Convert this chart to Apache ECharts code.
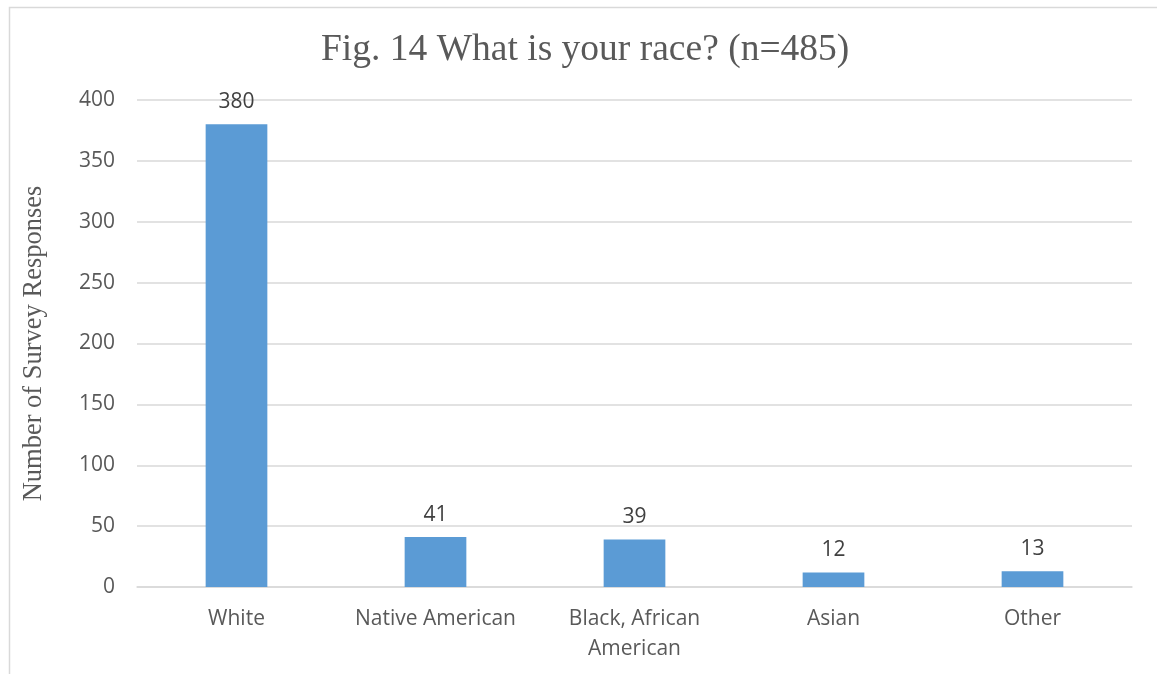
<!DOCTYPE html>
<html>
<head>
<meta charset="utf-8">
<script src="https://cdn.jsdelivr.net/npm/echarts@6/dist/echarts.min.js"></script>
<style>
  html, body { margin: 0; padding: 0; background: #ffffff; }
  #chart { width: 1157px; height: 674px; }
</style>
</head>
<body>
<div id="chart"></div>
<script>
// Survey responses by race
const categories = ['White', 'Native American', 'Black, African\nAmerican', 'Asian', 'Other'];
const responses = [380, 41, 39, 12, 13];
const yTicks = { min: 0, max: 400, interval: 50 };

const textColor = '#595959';
const gridColor = '#d9d9d9';
const sansFont = 'Open Sans';
const serifFont = 'Liberation Serif';

const chart = echarts.init(document.getElementById('chart'));
chart.setOption({
  animation: false,
  backgroundColor: '#ffffff',
  graphic: [{
    type: 'rect',
    left: 7, top: 5,
    shape: { width: 1170, height: 700 },
    style: { fill: 'none', stroke: '#d9d9d9', lineWidth: 1.5 },
    silent: true
  }],
  title: {
    text: 'Fig. 14 What is your race? (n=485)',
    left: 316,
    top: 26,
    textStyle: { fontFamily: serifFont, fontSize: 37.5, fontWeight: 'normal', color: textColor }
  },
  grid: { left: 137, right: 25, top: 100, bottom: 87, containLabel: false },
  xAxis: {
    type: 'category',
    data: categories,
    axisLine: { show: true, lineStyle: { color: gridColor, width: 1.5 } },
    axisTick: { show: false },
    axisLabel: {
      color: textColor, fontFamily: sansFont, fontSize: 21,
      margin: 17, lineHeight: 30, interval: 0
    }
  },
  yAxis: {
    type: 'value',
    min: yTicks.min, max: yTicks.max, interval: yTicks.interval,
    name: 'Number of Survey Responses',
    nameLocation: 'middle',
    nameGap: 89,
    nameTextStyle: { fontFamily: serifFont, fontSize: 26.5, color: textColor },
    axisLine: { show: false },
    axisTick: { show: false },
    axisLabel: { color: textColor, fontFamily: sansFont, fontSize: 21, margin: 22 },
    splitLine: { lineStyle: { color: gridColor, width: 1.5 } }
  },
  series: [{
    type: 'bar',
    data: responses,
    barWidth: '31%',
    itemStyle: { color: '#5b9bd5' },
    label: {
      show: true, position: 'top', distance: 12,
      color: '#404040', fontFamily: sansFont, fontSize: 21
    }
  }]
});
</script>
</body>
</html>
